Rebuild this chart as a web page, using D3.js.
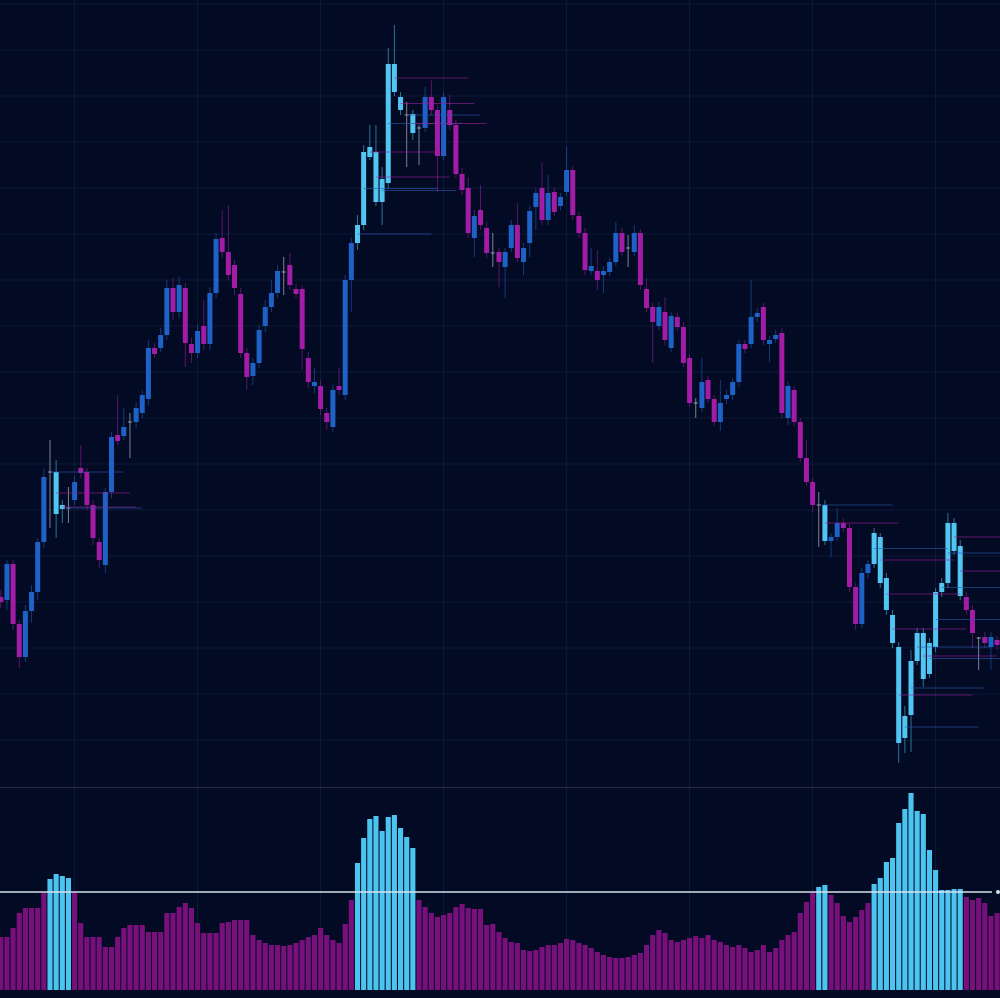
<!DOCTYPE html>
<html>
<head>
<meta charset="utf-8">
<script src="https://cdn.jsdelivr.net/npm/d3@7"></script>
<style>
  html, body { margin: 0; padding: 0; background: #030b24; }
  svg { display: block; }
</style>
</head>
<body>
<svg width="1000" height="998"></svg>
<script>
// OHLC values, one entry per bar
let opens = [40.3,40.0,43.6,37.6,34.3,38.9,40.8,45.8,52.8,52.8,49.5,49.2,50.0,53.2,52.8,49.5,45.8,43.5,50.8,56.5,
  56.4,57.8,57.8,58.7,60.1,65.2,65.2,66.5,71.2,68.8,71.2,65.6,64.7,67.4,65.6,70.7,76.2,74.8,73.5,70.6,
  64.7,62.4,63.7,67.4,69.3,70.7,72.8,73.5,71.1,71.1,64.2,61.4,61.4,58.7,57.3,61.4,60.5,72.0,75.7,77.5,
  85.3,84.8,79.8,81.7,93.6,90.3,88.5,88.6,87.2,87.2,90.3,89.0,84.4,89.0,87.5,82.6,81.2,76.2,79.0,77.2,
  74.7,74.8,73.3,75.2,77.5,73.8,75.7,79.3,81.2,78.0,80.8,79.4,80.8,83.0,78.4,76.7,72.9,72.9,72.5,72.8,
  73.8,76.7,75.2,74.8,76.7,71.1,69.3,67.4,68.8,65.2,68.3,67.3,64.2,59.7,59.2,62.0,60.1,57.8,60.1,60.5,
  61.8,65.6,65.6,68.3,69.3,65.6,66.1,66.7,58.2,61.0,57.8,54.2,51.8,49.5,49.5,45.9,46.3,47.7,47.2,41.3,
  37.6,42.7,43.6,46.3,42.2,38.5,35.3,26.2,28.5,33.9,36.7,32.6,35.3,40.8,41.7,47.7,45.4,40.3,39.0,36.2,
  36.3,35.3,36.0];
let highs = [41.0,44.0,44.0,38.0,39.5,41.5,46.2,53.2,56.0,54.0,50.0,51.3,52.4,55.5,53.2,50.0,46.2,51.2,56.8,60.5,
  59.2,58.7,59.8,61.0,66.0,65.7,67.2,72.0,72.2,72.3,71.7,66.2,67.5,70.0,71.3,76.7,79.0,79.5,74.0,71.2,
  65.2,64.2,67.5,70.0,72.0,73.5,74.3,74.7,71.6,71.5,64.8,63.2,62.0,59.2,61.5,63.2,72.5,76.2,78.5,85.5,
  87.5,87.5,83.3,95.2,97.5,90.8,89.8,89.0,87.5,91.3,92.0,89.5,90.8,90.5,88.0,83.2,82.3,79.0,81.5,77.8,
  76.7,75.2,75.2,78.0,79.7,75.7,79.4,81.2,83.8,82.5,81.2,80.7,85.3,83.4,78.8,77.2,75.2,75.0,73.4,74.2,
  77.8,77.2,76.5,77.5,77.1,72.2,69.7,69.8,70.3,68.8,68.7,67.8,64.6,60.2,64.2,62.4,60.5,62.0,61.0,62.2,
  66.0,66.0,72.0,69.2,69.7,66.4,67.0,67.2,61.8,61.4,58.2,56.0,52.2,50.8,50.0,46.7,49.2,48.2,47.6,41.7,
  43.2,44.0,47.2,46.7,42.7,39.0,35.8,29.4,35.0,37.2,37.2,36.2,41.2,42.2,48.7,48.2,46.0,40.8,39.5,36.3,
  36.8,36.8,36.4];
let lows = [39.2,39.0,37.0,33.2,33.8,37.7,40.0,45.2,47.2,46.2,47.7,47.7,49.5,52.2,49.0,45.5,43.2,42.7,50.2,55.5,
  56.0,54.2,57.2,58.2,59.5,64.2,64.8,66.0,68.0,68.2,63.3,63.7,64.2,65.0,65.0,70.2,74.2,72.0,70.5,64.2,
  61.0,61.5,63.2,66.8,68.8,70.2,70.5,71.0,70.2,63.0,61.2,60.7,58.5,57.0,56.8,60.5,60.0,68.8,75.0,77.0,
  84.0,79.4,77.5,81.2,90.4,88.5,83.3,86.0,83.5,86.8,88.5,80.8,84.0,87.0,82.2,80.5,76.2,74.3,77.0,74.2,
  73.3,71.3,70.2,74.8,73.8,72.5,74.3,77.0,77.5,77.5,78.4,79.0,80.4,78.0,76.2,72.5,72.5,71.0,70.7,72.4,
  73.4,74.4,73.3,74.4,71.0,68.8,63.7,67.0,65.5,64.8,66.9,63.3,59.3,58.2,58.8,59.7,57.4,56.9,59.6,60.0,
  61.3,64.7,65.2,67.8,65.5,63.8,65.7,58.2,57.5,57.4,53.8,51.4,48.8,45.3,45.5,44.3,45.9,46.8,40.8,37.0,
  37.2,42.2,43.2,41.2,38.5,35.2,23.7,24.7,24.8,33.5,31.3,32.2,34.8,40.3,41.2,44.5,40.0,38.5,35.2,33.0,
  35.2,33.0,35.0];
let closes = [39.8,43.6,37.6,34.3,38.9,40.8,45.8,52.3,52.8,48.6,49.1,49.2,51.8,52.7,49.5,46.2,44.0,50.8,56.3,55.9,
  57.3,57.8,59.2,60.5,65.2,64.6,66.5,71.2,68.8,71.5,65.7,64.7,66.9,65.6,70.7,76.1,74.8,72.5,71.2,64.7,
  62.3,63.7,67.0,69.3,70.7,72.9,72.8,71.5,70.6,65.1,61.8,61.8,59.1,57.8,61.0,61.0,72.0,75.7,77.5,84.8,
  84.3,79.8,82.1,93.6,90.8,89.0,88.5,86.7,87.2,90.3,89.0,84.4,90.3,87.5,82.6,81.0,76.7,78.4,77.5,74.7,
  74.7,73.8,74.8,77.5,74.2,75.2,78.9,80.7,78.0,80.7,78.8,80.3,83.0,78.5,76.7,73.0,73.4,72.0,72.9,73.8,
  76.7,74.8,75.2,76.7,71.5,69.2,67.8,69.3,66.0,68.4,67.3,63.7,59.7,59.7,61.8,60.1,57.8,59.7,60.5,61.8,
  65.6,65.1,68.3,68.7,66.0,66.0,66.5,58.7,61.4,57.8,54.2,51.8,49.5,49.5,45.9,46.3,47.7,47.2,41.3,37.6,
  42.7,43.6,46.7,41.7,39.0,35.7,25.7,28.4,33.9,36.7,32.1,35.7,40.8,41.7,47.7,44.9,40.4,39.0,36.7,36.2,
  35.7,36.3,35.5];

// volume per bar (lower panel)
let volumes = [26.5,26.5,31,38.5,41,41,41,48.5,55.5,58,57,56,48.5,33.5,26.5,26.5,26.5,21.5,21.5,26.5,
  31,32.5,32.5,32.5,29,29,29,38.5,38.5,41.5,43.5,41,33.5,28.5,28.5,28.5,33.5,34,35,35,
  35,27.5,25,23.5,22.5,22.5,22,22.5,23.5,25,26.5,27.5,31,27.5,25,23.5,33,45,63.5,76,
  85.5,87,79.5,86.5,87.5,81,76.5,71,45,41.5,38.5,36.5,37.5,38.5,41.5,43,41,40.5,40.5,32.5,
  33,29,26,24,23.5,20,19.5,20,21.5,22.5,22.5,23.5,25.5,25,23.5,22.5,21,19,17.5,16.5,
  16,16,16.5,17.5,18.5,22.5,27.5,30,28.5,25,24,25,26,27,26,27.5,25,24,22.5,21.5,
  22.5,21,19,20,22.5,19,21,25,27.5,29,38.5,44,48.5,51.5,52.5,47.5,43.5,37,34,36.5,
  40,43.5,53,56,64,66,83.5,90.5,98.5,89.5,88,70,60,50,50,50.5,50.5,46.5,45,46,
  43.5,37,38.5];

let threshold = 49;

// horizontal grid prices and vertical grid bar positions
let gridPrices = [99.6,95.0,90.4,85.8,81.2,76.6,72.0,67.4,62.8,58.2,53.6,49.0,44.4,39.8,35.2,30.6,26.0];
let gridBars = [12,32,52,72,92,112,132,152];

let data = opens.map((o, i) => ({
  i: i, open: o, high: highs[i], low: lows[i], close: closes[i], vol: volumes[i]
}));

let width = 1000, height = 998;
let svg = d3.select("svg");

// scales
let x = d3.scaleLinear().domain([0, 162]).range([0.8, 997.1]);
let y = d3.scaleLinear().domain([21.3, 100]).range([787, 0]);
let v = d3.scaleLinear().domain([0, 100]).range([990, 790]);

let colUp = "#1e62c8", colDown = "#a21ca6", colHot = "#52c6f2", colDoji = "#9aa0b0";

svg.append("rect").attr("width", width).attr("height", height).attr("fill", "#030b24");

// grid
svg.append("g").selectAll("line").data(gridPrices).enter().append("line")
    .attr("x1", 0).attr("x2", width)
    .attr("y1", d => y(d)).attr("y2", d => y(d))
    .attr("stroke", "#0f1a3a").attr("stroke-width", 1);

svg.append("g").selectAll("line").data(gridBars).enter().append("line")
    .attr("x1", d => x(d)).attr("x2", d => x(d))
    .attr("y1", 0).attr("y2", 990)
    .attr("stroke", "#0f1a3a").attr("stroke-width", 1);

// panel separator
svg.append("line").attr("x1", 0).attr("x2", width).attr("y1", 787.5).attr("y2", 787.5)
    .attr("stroke", "#262c45").attr("stroke-width", 1.2);

function candleColor(d) {
  if (d.open === d.close) return colDoji;
  if (d.vol > threshold) return colHot;
  return d.close > d.open ? colUp : colDown;
}

let bodyW = 5;

// wicks
svg.append("g").selectAll("line").data(data).enter().append("line")
    .attr("x1", d => x(d.i)).attr("x2", d => x(d.i))
    .attr("y1", d => y(d.high)).attr("y2", d => y(d.low))
    .attr("stroke", candleColor)
    .attr("stroke-opacity", d => d.open === d.close ? 0.8 : 0.55)
    .attr("stroke-width", 1);

// bodies
svg.append("g").selectAll("rect").data(data.filter(d => d.open !== d.close)).enter().append("rect")
    .attr("x", d => x(d.i) - bodyW / 2)
    .attr("y", d => y(Math.max(d.open, d.close)))
    .attr("width", bodyW)
    .attr("height", d => Math.max(2, Math.abs(y(d.open) - y(d.close))))
    .attr("fill", candleColor);

// doji ticks
svg.append("g").selectAll("rect").data(data.filter(d => d.open === d.close)).enter().append("rect")
    .attr("x", d => x(d.i) - 2).attr("y", d => y(d.open) - 0.5)
    .attr("width", 4).attr("height", 1)
    .attr("fill", colDoji);

// level lines from high volume bars
let levels = data.filter(d => d.vol > threshold);
svg.append("g").selectAll("line").data(levels).enter().append("line")
    .attr("x1", d => x(d.i)).attr("x2", d => x(Math.min(d.i + 12, 163)))
    .attr("y1", d => y((d.open + d.close) / 2)).attr("y2", d => y((d.open + d.close) / 2))
    .attr("stroke", d => d.close >= d.open ? "#2c5cb0" : "#9a1f9e")
    .attr("stroke-opacity", 0.6)
    .attr("stroke-width", 1);

// volume histogram
let barW = 5.1;
svg.append("g").selectAll("rect").data(data).enter().append("rect")
    .attr("x", d => x(d.i) - barW / 2)
    .attr("y", d => v(d.vol))
    .attr("width", barW)
    .attr("height", d => v(0) - v(d.vol))
    .attr("fill", d => d.vol > threshold ? "#4cc4f0" : "#78107c");

// threshold line
svg.append("line")
    .attr("x1", 0).attr("x2", 992)
    .attr("y1", v(threshold)).attr("y2", v(threshold))
    .attr("stroke", "#d6e2ee").attr("stroke-width", 1.6);
svg.append("circle").attr("cx", 998).attr("cy", v(threshold)).attr("r", 2).attr("fill", "#d6e2ee");
</script>
</body>
</html>
